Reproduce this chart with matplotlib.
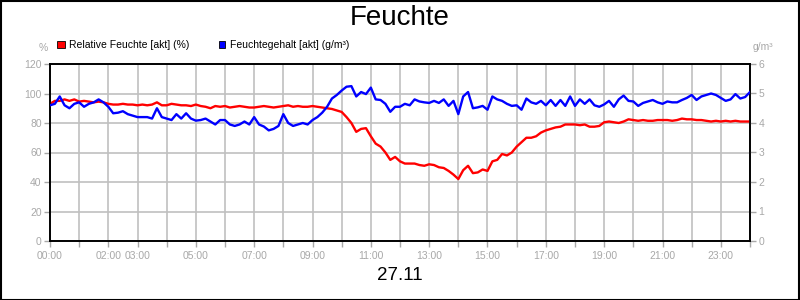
import numpy as np
import matplotlib
matplotlib.use("Agg")
import matplotlib.pyplot as plt
from matplotlib.patches import Rectangle

plt.rcParams['font.family'] = ['Liberation Sans', 'DejaVu Sans']

title = "Feuchte"
date_label = "27.11"
series_names = ["Relative Feuchte [akt] (%)", "Feuchtegehalt [akt] (g/m³)"]
left_unit = "%"
right_unit = "g/m³"

# 10-minute samples from 00:00 to 24:00
minutes = np.arange(0, 24 * 60 + 1, 10)

rel_humidity = [
    93, 95, 95, 96, 95, 96, 94.5, 95, 94.5, 94,
    94.5, 94, 93, 92.5, 92.5, 93, 92.5, 92.5, 92, 92.5,
    92, 92.5, 94, 92, 92, 93, 92.5, 92, 92, 91.5,
    92.5, 91.5, 91, 90, 91.5, 91, 91.5, 90.5, 91, 91.5,
    91, 90.5, 90.5, 91, 91.5, 91, 90.5, 91, 91.5, 92,
    91, 91.5, 91, 91, 91.5, 91, 90.5, 90, 89.5, 88.5,
    87.5, 84, 80, 74, 76, 76.5, 71, 66, 64, 60,
    55, 57, 54, 52.5, 52.5, 52.5, 51.5, 51, 52, 51.5,
    50, 49.5, 47.5, 45, 42, 48, 51, 46, 46.5, 48.5,
    47.5, 54, 55, 59, 58, 60, 64, 67, 70, 70,
    71, 73.5, 75, 76, 77, 77.5, 79, 79, 79, 78.5,
    79, 77.5, 77.5, 78, 80.5, 81, 80.5, 80, 81, 82.5,
    82, 81.5, 82, 81.5, 81.5, 82, 82, 82, 81.5, 82,
    83, 82.5, 82.5, 82, 82, 81.5, 81, 81.5, 81, 81.5,
    81, 81.5, 81, 81, 81,
]

abs_humidity = [
    4.60, 4.65, 4.90, 4.60, 4.50, 4.65, 4.70, 4.55, 4.65, 4.70,
    4.80, 4.70, 4.55, 4.33, 4.35, 4.40, 4.30, 4.25, 4.20, 4.20,
    4.20, 4.15, 4.50, 4.20, 4.15, 4.10, 4.30, 4.15, 4.33, 4.15,
    4.08, 4.10, 4.15, 4.05, 3.95, 4.10, 4.10, 3.95, 3.90, 3.95,
    4.05, 3.95, 4.20, 3.95, 3.88, 3.75, 3.80, 3.90, 4.30, 4.00,
    3.90, 3.95, 4.00, 3.95, 4.10, 4.20, 4.35, 4.55, 4.83, 4.95,
    5.10, 5.23, 5.25, 4.90, 5.05, 4.98, 5.20, 4.80, 4.78, 4.65,
    4.38, 4.55, 4.55, 4.65, 4.60, 4.80, 4.73, 4.70, 4.68, 4.75,
    4.68, 4.80, 4.58, 4.75, 4.30, 4.90, 5.05, 4.50, 4.53, 4.58,
    4.45, 4.90, 4.80, 4.75, 4.65, 4.58, 4.60, 4.45, 4.83, 4.70,
    4.65, 4.75, 4.60, 4.78, 4.58, 4.78, 4.58, 4.90, 4.58, 4.80,
    4.65, 4.80, 4.60, 4.55, 4.63, 4.75, 4.55, 4.80, 4.93, 4.75,
    4.73, 4.58, 4.68, 4.73, 4.78, 4.70, 4.65, 4.73, 4.70, 4.70,
    4.78, 4.85, 4.95, 4.78, 4.90, 4.95, 5.00, 4.95, 4.85, 4.75,
    4.80, 4.98, 4.83, 4.88, 5.05,
]

hour_ticks = list(range(0, 25))
hour_labels = ["00:00", "", "02:00", "03:00", "", "05:00", "", "07:00", "", "09:00",
               "", "11:00", "", "13:00", "", "15:00", "", "17:00", "", "19:00",
               "", "21:00", "", "23:00", ""]
left_ticks = [0, 20, 40, 60, 80, 100, 120]
right_ticks = [0, 1, 2, 3, 4, 5, 6]

W, H = 800, 300
fig = plt.figure(figsize=(8, 3), dpi=100)
fig.patch.set_facecolor("white")

def px(x, y):
    return x / W, 1 - y / H

ax = fig.add_axes([50 / W, (H - 241) / H, 700 / W, 177 / H])
ax2 = ax.twinx()

hours = minutes / 60.0
gray = "#a8a8a8"
grid_col = "#c0c0c0"

ax.plot(hours, rel_humidity, color="#ff0000", lw=1.7, zorder=3, solid_joinstyle="round")
ax2.plot(hours, abs_humidity, color="#0000ff", lw=1.7, zorder=3, solid_joinstyle="round")

ax.set_xlim(0, 24)
ax.set_ylim(0, 120)
ax2.set_ylim(0, 6)
ax.set_xticks(hour_ticks)
ax.set_xticklabels(hour_labels)
ax.set_yticks(left_ticks)
ax2.set_yticks(right_ticks)

ax.grid(True, color=grid_col, lw=1.2)
ax.set_axisbelow(True)

for a in (ax, ax2):
    for s in a.spines.values():
        s.set_color("black")
        s.set_linewidth(1.2)
    a.tick_params(colors=gray, labelcolor=gray, labelsize=7.5, length=4, width=1, pad=2)
ax.tick_params(axis='x', pad=3)

fig.text(*px(400, 18), title, ha="center", va="center", fontsize=20, color="black")
fig.text(*px(400, 276), date_label, ha="center", va="center", fontsize=13.5, color="black")
fig.text(*px(43, 48), left_unit, ha="center", va="center", fontsize=7.5, color=gray)
fig.text(*px(763, 47), right_unit, ha="center", va="center", fontsize=7.5, color=gray)

# legend
for (lx, col, name) in [(61, "#ff0000", series_names[0]), (222, "#0000ff", series_names[1])]:
    x0, y0 = px(lx - 3.5, 48)
    fig.patches.append(Rectangle((x0, y0), 7 / W, 7 / H, transform=fig.transFigure,
                                 facecolor=col, edgecolor="black", lw=0.6))
    fig.text(*px(lx + 8, 44.5), name, ha="left", va="center", fontsize=7.5, color="black")

# figure border
fig.patches.append(Rectangle((0.5 / W, 0.5 / H), 1 - 1.5 / W, 1 - 1.5 / H, transform=fig.transFigure,
                             facecolor="none", edgecolor="black", lw=1.5))

fig.savefig("out.png", dpi=100)
